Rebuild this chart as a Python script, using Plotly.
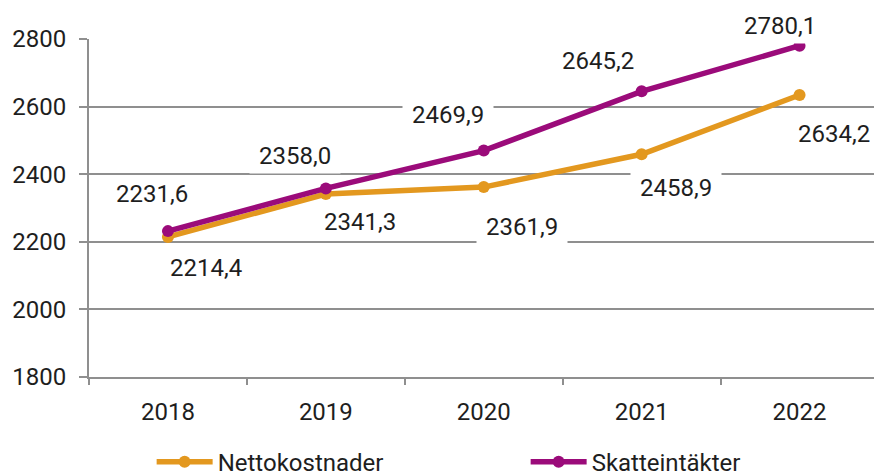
import plotly.graph_objects as go

years = ["2018", "2019", "2020", "2021", "2022"]
netto = [2214.4, 2341.3, 2361.9, 2458.9, 2634.2]
skatt = [2231.6, 2358.0, 2469.9, 2645.2, 2780.1]
netto_labels = ["2214,4", "2341,3", "2361,9", "2458,9", "2634,2"]
skatt_labels = ["2231,6", "2358,0", "2469,9", "2645,2", "2780,1"]
y_ticks = [1800, 2000, 2200, 2400, 2600, 2800]

ORANGE = "#E3981F"
PURPLE = "#9B0B7A"
GRID = "#8F8F8F"
TXT = "#1E1E1E"
FONT = "Roboto"
FS = 24

# label offsets (px) relative to points: (dx, dy down)
netto_off = [(38.5, 31.5), (34, 27.5), (38, 39.5), (34.4, 34), (34.4, 39)]
skatt_off = [(-15.5, -37.6), (-31, -32), (-36, -35.6), (-43.6, -30.8), (-19.6, -19.7)]

fig = go.Figure()
fig.add_trace(go.Scatter(x=years, y=netto, name="Nettokostnader", mode="lines+markers",
                         line=dict(color=ORANGE, width=5.5), marker=dict(size=12, color=ORANGE),
                         cliponaxis=False))
fig.add_trace(go.Scatter(x=years, y=skatt, name="Skatteintäkter", mode="lines+markers",
                         line=dict(color=PURPLE, width=5.5), marker=dict(size=12, color=PURPLE),
                         cliponaxis=False))

NB = "\u00a0"
for ys, labs, offs in [(netto, netto_labels, netto_off), (skatt, skatt_labels, skatt_off)]:
    for i, (y, lab, (dx, dy)) in enumerate(zip(ys, labs, offs)):
        pad = "" if i == len(ys) - 1 and dx > 0 else NB
        fig.add_annotation(x=i, y=y, xref="x", yref="y", text=pad + lab + pad, showarrow=False,
                           xshift=dx, yshift=-dy, bgcolor="white", borderpad=3,
                           font=dict(family=FONT, size=FS, color=TXT))

fig.update_layout(
    width=874, height=474,
    margin=dict(l=89, r=0, t=39, b=97, autoexpand=False),
    paper_bgcolor="white", plot_bgcolor="white",
    font=dict(family=FONT, size=FS, color=TXT),
    showlegend=True,
    legend=dict(orientation="h", xref="container", yref="container", x=0.1735, y=0.025,
                xanchor="left", yanchor="middle", itemwidth=56, entrywidth=303,
                font=dict(family=FONT, size=FS, color=TXT), bgcolor="rgba(0,0,0,0)"),
    xaxis=dict(type="category", range=[-0.5, 4.4715], showgrid=False,
               showline=True, linecolor=GRID, linewidth=2,
               ticks="outside", tickson="boundaries", ticklen=6, tickwidth=2, tickcolor=GRID,
               ticklabelstandoff=12, tickfont=dict(family=FONT, size=FS, color=TXT)),
    yaxis=dict(range=[1800, 2800], tickvals=y_ticks, ticktext=[str(v) for v in y_ticks],
               showgrid=True, gridcolor=GRID, gridwidth=2,
               showline=True, linecolor=GRID, linewidth=2, zeroline=False,
               ticks="outside", ticklen=8, tickwidth=2, tickcolor=GRID,
               ticklabelstandoff=8, tickfont=dict(family=FONT, size=FS, color=TXT)),
)

fig.write_html("out.html", config={"displayModeBar": False},
               post_script="document.body.style.margin='0';document.body.style.overflow='hidden';")
